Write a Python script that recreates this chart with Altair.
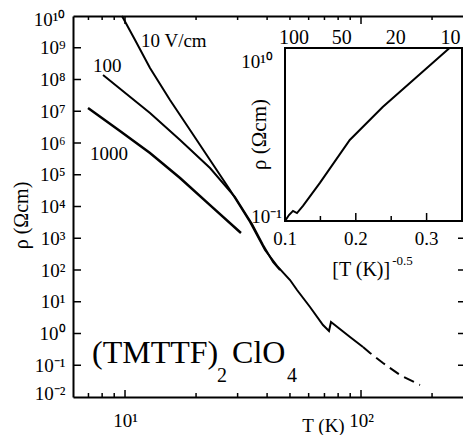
import json
import altair as alt
import pandas as pd

FONT = "Liberation Serif, Times New Roman, Times, serif"
W, H = 390, 381

# ---------------- main panel: T (K) vs rho (Ohm cm) ----------------
T_10 = [9.71, 11.03, 12.76, 15.51, 18.86, 22.92, 27.86, 33.86, 39.20, 44.06,
        50.03, 53.57, 60.80, 69.02, 73.17, 74.62, 89.83, 101.97]
R_10 = [1e10, 1.75e9, 2.30e8, 2.26e7, 2.56e6, 2.92e5, 3.31e4, 3.25e3, 427, 134,
        48.4, 23.4, 6.83, 1.85, 1.20, 2.30, 0.776, 0.376]
T_10_dash = [101.97, 109.2, 123.9, 146.3, 177.8]
R_10_dash = [0.376, 0.243, 0.118, 0.0493, 0.0239]
T_100 = [8.07, 12.76, 17.11, 22.92, 29.25, 34.52, 38.44, 42.38, 45.39]
R_100 = [1.39e8, 8.81e6, 1.24e6, 1.63e5, 1.99e4, 2.81e3, 612, 179, 100]
T_1000 = [6.97, 9.52, 12.76, 17.11, 22.92, 31.0]
R_1000 = [1.26e7, 2.39e6, 4.84e5, 7.91e4, 1.11e4, 1.46e3]

curve_labels = ["10 V/cm", "100", "1000"]
curve_label_T = [11.69, 7.32, 7.11]
curve_label_R = [1.06e9, 1.72e8, 2.92e5]

formula_T = [7.25]
formula_R = [0.118]

x_major = [10, 100]
x_major_labels = ["10\u00b9", "10\u00b2"]
x_minor = [7, 8, 9, 20, 30, 40, 50, 60, 70, 80, 90, 200]
y_major = [1e-2, 1e-1, 1e0, 1e1, 1e2, 1e3, 1e4, 1e5, 1e6, 1e7, 1e8, 1e9, 1e10]
y_major_labels = ["10\u207b\u00b2", "10\u207b\u00b9", "10\u2070", "10\u00b9", "10\u00b2",
                  "10\u00b3", "10\u2074", "10\u2075", "10\u2076", "10\u2077",
                  "10\u2078", "10\u2079", "10\u00b9\u2070"]

# ---------------- inset: [T]^-0.5 vs rho ----------------
X_in = [0.100, 0.1056, 0.1113, 0.1169, 0.1254, 0.1493, 0.1915, 0.238, 0.286, 0.3324]
R_in = [0.1, 0.24, 0.44, 0.32, 0.91, 26.3, 1.41e4, 1.78e6, 1.45e8, 1e10]
in_major = [0.1, 0.2, 0.3]
in_major_labels = ["0.1", "0.2", "0.3"]
in_minor = [0.15, 0.25]
in_top_labels = ["100", "50", "20", "10"]
in_top_pos = [0.1127, 0.1803, 0.2563, 0.3338]

BLACK = "black"


def mscale_x():
    return alt.Scale(type="log", domain=[6.02, 270.5], nice=False)


def mscale_y():
    return alt.Scale(type="log", domain=[1e-2, 1e10], nice=False)


def iscale_x():
    return alt.Scale(domain=[0.1, 0.35], range=[212, 389], nice=False, zero=False)


def iscale_y():
    return alt.Scale(type="log", domain=[0.1, 1e10], range=[205, 32], nice=False)


def mx(field, axis=None):
    return alt.X(field, type="quantitative", scale=mscale_x(), axis=axis)


def my(field, axis=None):
    return alt.Y(field, type="quantitative", scale=mscale_y(), axis=axis)


def ix(field):
    return alt.X(field, type="quantitative", scale=iscale_x(), axis=None)


def iy(field):
    return alt.Y(field, type="quantitative", scale=iscale_y(), axis=None)


x_expr = json.dumps(x_major_labels, ensure_ascii=False) + "[round(log(datum.value)/LN10) - 1]"
y_expr = json.dumps(y_major_labels, ensure_ascii=False) + "[round(log(datum.value)/LN10) + 2]"

x_axis = alt.Axis(values=x_major, labelExpr=x_expr, ticks=False, grid=False,
                  domainColor=BLACK, domainWidth=2, labelFont=FONT, labelFontSize=19,
                  labelColor=BLACK, labelPadding=14, title="T (K)", titleFont=FONT,
                  titleFontSize=19, titleFontWeight="normal", titleColor=BLACK,
                  titleX=250, titleY=34, titleBaseline="alphabetic", titleAlign="center")
y_axis = alt.Axis(values=y_major, labelExpr=y_expr, ticks=False, grid=False,
                  domainColor=BLACK, domainWidth=2, labelFont=FONT, labelFontSize=19,
                  labelColor=BLACK, labelPadding=8,
                  labelFlush=True, labelFlushOffset=6,
                  title="\u03c1 (\u03a9cm)", titleFont=FONT, titleFontSize=20,
                  titleFontWeight="normal", titleColor=BLACK, titleX=-46, titleY=199,
                  titleAngle=270, titleBaseline="alphabetic", titleAlign="center")
top_axis = alt.Axis(orient="top", labels=False, ticks=False, grid=False,
                    domainColor=BLACK, domainWidth=2, title=None)

line10 = alt.Chart(pd.DataFrame({"T": T_10, "rho": R_10})).mark_line(
    color=BLACK, strokeWidth=2).encode(x=mx("T", x_axis), y=my("rho", y_axis))
dash10 = alt.Chart(pd.DataFrame({"T": T_10_dash, "rho": R_10_dash})).mark_line(
    color=BLACK, strokeWidth=2, strokeDash=[11, 6]).encode(x=mx("T"), y=my("rho"))
line100 = alt.Chart(pd.DataFrame({"T": T_100, "rho": R_100})).mark_line(
    color=BLACK, strokeWidth=2).encode(x=mx("T", top_axis), y=my("rho"))
line1000 = alt.Chart(pd.DataFrame({"T": T_1000, "rho": R_1000})).mark_line(
    color=BLACK, strokeWidth=2.5).encode(x=mx("T"), y=my("rho"))

# inward ticks of the main frame
xmin_df = pd.DataFrame({"T": x_minor})
xmaj_df = pd.DataFrame({"T": x_major})
ytick_df = pd.DataFrame({"rho": y_major[1:-1]})
rule = dict(color=BLACK, strokeWidth=1.5)
bottom_minor = alt.Chart(xmin_df).mark_rule(**rule).encode(
    x=mx("T"), y=alt.value(H), y2=alt.value(H - 4))
bottom_major = alt.Chart(xmaj_df).mark_rule(**rule).encode(
    x=mx("T"), y=alt.value(H), y2=alt.value(H - 7))
top_minor = alt.Chart(xmin_df).mark_rule(**rule).encode(
    x=mx("T"), y=alt.value(0), y2=alt.value(4))
top_major = alt.Chart(xmaj_df).mark_rule(**rule).encode(
    x=mx("T"), y=alt.value(0), y2=alt.value(8))
left_ticks = alt.Chart(ytick_df).mark_rule(**rule).encode(
    y=my("rho"), x=alt.value(0), x2=alt.value(8))
right_ticks = alt.Chart(ytick_df).mark_rule(**rule).encode(
    y=my("rho"), x=alt.value(W - 5), x2=alt.value(W))

ann = alt.Chart(pd.DataFrame({"T": curve_label_T, "rho": curve_label_R,
                              "label": curve_labels})).mark_text(
    font=FONT, fontSize=19, align="left", baseline="alphabetic", color=BLACK).encode(
    x=mx("T"), y=my("rho"), text="label:N")

fdf = pd.DataFrame({"T": formula_T, "rho": formula_R})


def piece(txt, size, dx, dy):
    return alt.Chart(fdf).mark_text(font=FONT, fontSize=size, align="left",
                                    baseline="alphabetic", color=BLACK, dx=dx, dy=dy).encode(
        x=mx("T"), y=my("rho"), text=alt.value(txt))


formula = [piece("(TMTTF)", 32, 0, 0), piece("2", 20, 125, 19),
           piece("ClO", 32, 140, 0), piece("4", 20, 195, 19)]

# ---------------- inset layers ----------------
one = pd.DataFrame({"a": [0]})
inset_rect = alt.Chart(one).mark_rect(fill="white", stroke=BLACK, strokeWidth=2).encode(
    x=alt.XDatum(0.1, type="quantitative", scale=iscale_x(), axis=None),
    x2=alt.X2Datum(0.35),
    y=alt.YDatum(0.1, type="quantitative", scale=iscale_y(), axis=None),
    y2=alt.Y2Datum(1e10))
inset_line = alt.Chart(pd.DataFrame({"x": X_in, "rho": R_in})).mark_line(
    color=BLACK, strokeWidth=2).encode(x=ix("x"), y=iy("rho"))

in_maj_df = pd.DataFrame({"x": in_major, "label": in_major_labels})
in_min_df = pd.DataFrame({"x": in_minor})
in_ybot = alt.YDatum(0.1, type="quantitative", scale=iscale_y(), axis=None)
in_ytop = alt.YDatum(1e10, type="quantitative", scale=iscale_y(), axis=None)
inset_major_ticks = alt.Chart(in_maj_df).mark_rule(**rule).encode(
    x=ix("x"), y=in_ybot, y2=alt.value(205 - 8))
inset_minor_ticks = alt.Chart(in_min_df).mark_rule(**rule).encode(
    x=ix("x"), y=in_ybot, y2=alt.value(205 - 5))
inset_bottom_labels = alt.Chart(in_maj_df).mark_text(
    font=FONT, fontSize=19, align="center", baseline="alphabetic", dy=24, color=BLACK).encode(
    x=ix("x"), y=in_ybot, text="label:N")
inset_top_text = alt.Chart(pd.DataFrame({"x": in_top_pos, "label": in_top_labels})).mark_text(
    font=FONT, fontSize=20, align="center", baseline="alphabetic", dy=-4, color=BLACK).encode(
    x=ix("x"), y=in_ytop, text="label:N")

in_xleft = alt.XDatum(0.1, type="quantitative", scale=iscale_x(), axis=None)
inset_ylab_top = alt.Chart(one).mark_text(
    font=FONT, fontSize=19, align="right", baseline="alphabetic", dx=-12, dy=20, color=BLACK).encode(
    x=in_xleft, y=in_ytop, text=alt.value("10\u00b9\u2070"))
inset_ylab_bot = alt.Chart(one).mark_text(
    font=FONT, fontSize=19, align="right", baseline="alphabetic", dx=-3, dy=2, color=BLACK).encode(
    x=in_xleft, y=in_ybot, text=alt.value("10\u207b\u00b9"))
inset_ytitle = alt.Chart(one).mark_text(
    font=FONT, fontSize=21, align="center", baseline="bottom", angle=270, dy=-15, color=BLACK).encode(
    x=in_xleft, y=alt.YDatum(10 ** 4.5, type="quantitative", scale=iscale_y(), axis=None),
    text=alt.value("\u03c1 (\u03a9cm)"))
in_xanchor = alt.XDatum(0.25, type="quantitative", scale=iscale_x(), axis=None)
inset_xtitle = alt.Chart(one).mark_text(
    font=FONT, fontSize=20, align="right", baseline="alphabetic", dx=-1, dy=55, color=BLACK).encode(
    x=in_xanchor, y=in_ybot, text=alt.value("[T (K)]"))
inset_xtitle_sup = alt.Chart(one).mark_text(
    font=FONT, fontSize=13, align="left", baseline="alphabetic", dx=1, dy=44, color=BLACK).encode(
    x=in_xanchor, y=in_ybot, text=alt.value("-0.5"))

chart = alt.layer(
    line10, dash10, line100, line1000,
    bottom_minor, bottom_major, top_minor, top_major, left_ticks, right_ticks,
    ann, *formula,
    inset_rect, inset_line, inset_major_ticks, inset_minor_ticks,
    inset_bottom_labels, inset_top_text, inset_ylab_top, inset_ylab_bot,
    inset_ytitle, inset_xtitle, inset_xtitle_sup,
).resolve_scale(x="independent", y="independent").properties(
    width=W, height=H,
    autosize=alt.AutoSizeParams(type="none"),
    padding={"left": 65, "top": 8, "right": 0, "bottom": 38},
    background="white",
).configure_view(stroke=None).configure_axis(grid=False)

chart.save("out.html", embed_options={"renderer": "svg", "actions": False})
